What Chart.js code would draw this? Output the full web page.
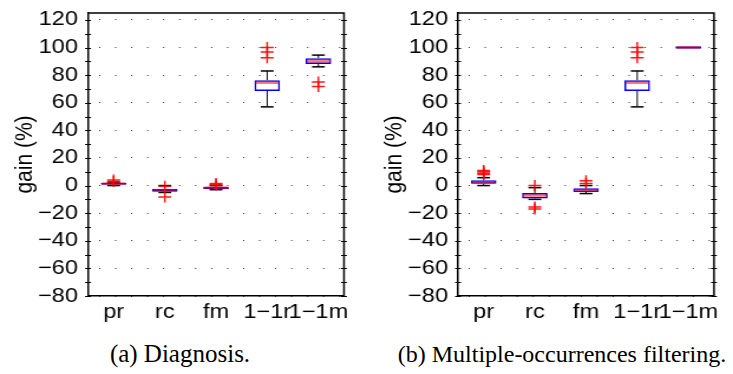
<!DOCTYPE html>
<html>
<head>
<meta charset="utf-8">
<script src="https://cdn.jsdelivr.net/npm/chart.js@4.4.0/dist/chart.umd.min.js"></script>
<style>
  body { margin: 0; background: #fff; }
  #wrap { position: relative; width: 733px; height: 374px; overflow: hidden; }
  /* the original figure is a little wider than tall, so the panels are stretched sideways */
  .panel { position: absolute; top: 0; height: 330px; transform: scaleX(1.18); transform-origin: 0 0; }
  .caption {
    position: absolute; top: 341px; font-family: 'Liberation Serif', 'Times New Roman', serif;
    font-size: 24px; color: #000; white-space: nowrap; transform: translateX(-50%);
  }
</style>
</head>
<body>
<div id="wrap">
  <div class="panel" style="left:0;width:310px"><canvas id="diagChart"></canvas></div>
  <div class="panel" style="left:366px;width:311px"><canvas id="filtChart"></canvas></div>
  <div class="caption" style="left:180px;font-size:25px;top:340px">(a) Diagnosis.</div>
  <div class="caption" style="left:562px">(b) Multiple-occurrences filtering.</div>
</div>
<script>
// Categories and y ticks
const categories = ['pr', 'rc', 'fm', '1\u22121r', '1\u22121m'];
const yTickValues = [-80, -70, -60, -50, -40, -30, -20, -10, 0, 10, 20, 30, 40, 50, 60, 70, 80, 90, 100, 110, 120];

// (a) Diagnosis - box plot stats per category
const diagWhiskerLow = [0, -5, -3, 57, 86];
const diagQ1 = [0.5, -4.5, -2.6, 68.5, 88];
const diagMedian = [1.4, -3.4, -1.6, 74.5, 90];
const diagQ3 = [2, -2.3, -0.8, 76.3, 92.3];
const diagWhiskerHigh = [2.5, 0, 0, 83, 94.5];
const diagOutliers = [[3, 4], [-0.5, -8.2], [0.5, 1.5], [92.5, 96.8, 100], [71.7, 75]];

// (b) Multiple-occurrences filtering
const filtWhiskerLow = [0, -10, -5.8, 57, 100];
const filtQ1 = [1.4, -9.4, -4.6, 68.5, 100];
const filtMedian = [2.1, -7.2, -3.4, 74.5, 100];
const filtQ3 = [3.8, -5.3, -1.9, 76.3, 100];
const filtWhiskerHigh = [5.7, -1.5, 0, 83, 100];
const filtOutliers = [[8, 9, 10, 11], [0, -15.5, -17], [1.5, 3.5], [92.5, 96.8, 100], []];

const sansFont = "'Liberation Sans', Arial, sans-serif";

// Whiskers, medians, frame and inward ticks
const boxPlotExtras = {
  id: 'boxPlotExtras',
  beforeDatasetsDraw(chart, args, opts) {
    const { ctx, scales: { y } } = chart;
    const meta = chart.getDatasetMeta(0);
    ctx.save();
    ctx.strokeStyle = '#000';
    meta.data.forEach((bar, i) => {
      const cx = bar.x;
      const half = bar.width / 4;
      const parts = [[opts.q3[i], opts.high[i]], [opts.q1[i], opts.low[i]]];
      parts.forEach(([from, to]) => {
        if (from === to) return;
        const y1 = y.getPixelForValue(from);
        const y2 = y.getPixelForValue(to);
        ctx.lineWidth = 1;
        ctx.beginPath();
        ctx.moveTo(cx, y1);
        ctx.lineTo(cx, y2);
        ctx.stroke();
        ctx.lineWidth = 1.5;
        ctx.beginPath();
        ctx.moveTo(cx - half, y2);
        ctx.lineTo(cx + half, y2);
        ctx.stroke();
      });
    });
    ctx.restore();
  },
  afterDatasetDraw(chart, args, opts) {
    if (args.index !== 0) return;
    const { ctx, scales: { y } } = chart;
    ctx.save();
    args.meta.data.forEach((bar, i) => {
      const left = bar.x - bar.width / 2;
      const right = bar.x + bar.width / 2;
      // flat box: still show its outline as a line
      if (opts.q1[i] === opts.q3[i]) {
        const yb = y.getPixelForValue(opts.q1[i]);
        ctx.strokeStyle = '#0000ff';
        ctx.lineWidth = 2;
        ctx.beginPath();
        ctx.moveTo(left, yb);
        ctx.lineTo(right, yb);
        ctx.stroke();
      }
      const ym = y.getPixelForValue(opts.median[i]);
      ctx.strokeStyle = 'rgba(255, 0, 0, 0.55)';
      ctx.lineWidth = 2.5;
      ctx.beginPath();
      ctx.moveTo(left + 1, ym);
      ctx.lineTo(right - 1, ym);
      ctx.stroke();
    });
    ctx.restore();
  },
  afterDraw(chart) {
    const { ctx, chartArea: a, scales: { y } } = chart;
    ctx.save();
    ctx.strokeStyle = '#000';
    ctx.lineWidth = 1.5;
    ctx.beginPath();
    ctx.moveTo(a.left, a.top);
    ctx.lineTo(a.right, a.top);
    ctx.lineTo(a.right, a.bottom);
    ctx.stroke();
    ctx.lineWidth = 1;
    yTickValues.forEach(v => {
      const py = Math.round(y.getPixelForValue(v)) + 0.5;
      ctx.beginPath();
      ctx.moveTo(a.left - 2.5, py);
      ctx.lineTo(a.left + 2.5, py);
      ctx.moveTo(a.right - 2.5, py);
      ctx.lineTo(a.right + 2.5, py);
      ctx.stroke();
    });
    ctx.restore();
  }
};

function makePanel(canvasId, low, q1, median, q3, high, outliers, yWidth, titlePad, rightPad) {
  const outlierPoints = [];
  outliers.forEach((list, i) => {
    list.forEach(v => outlierPoints.push({ x: categories[i], y: v }));
  });

  return new Chart(document.getElementById(canvasId), {
    type: 'bar',
    data: {
      labels: categories,
      datasets: [
        {
          label: 'box',
          data: q1.map((v, i) => [v, q3[i]]),
          backgroundColor: 'rgba(0, 0, 0, 0)',
          borderColor: '#0000ff',
          borderWidth: 1.5,
          borderSkipped: false,
          barPercentage: 0.5,
          categoryPercentage: 1.0,
          order: 2
        },
        {
          type: 'line',
          label: 'outliers',
          data: outlierPoints,
          showLine: false,
          pointStyle: 'cross',
          pointRadius: 5.5,
          pointBorderWidth: 1.5,
          pointBorderColor: 'rgba(255, 0, 0, 0.9)',
          pointBackgroundColor: 'rgba(255, 0, 0, 0.9)',
          order: 1
        }
      ]
    },
    options: {
      responsive: true,
      maintainAspectRatio: false,
      animation: false,
      layout: { padding: { top: 13, right: rightPad, left: 0, bottom: 0 } },
      plugins: {
        legend: { display: false },
        tooltip: { enabled: false },
        boxPlotExtras: { low: low, q1: q1, median: median, q3: q3, high: high }
      },
      scales: {
        x: {
          offset: true,
          grid: { display: false, drawTicks: false },
          border: { display: true, color: '#000', width: 1.5 },
          ticks: { color: '#000', font: { family: sansFont, size: 20 }, padding: 4, maxRotation: 0, autoSkip: false },
          afterFit: scale => {
            scale.height = 34;
            scale.paddingLeft = 0;
            scale.paddingRight = 0;
          }
        },
        y: {
          min: -80,
          max: 125,
          afterBuildTicks: scale => { scale.ticks = yTickValues.map(v => ({ value: v })); },
          grid: { color: '#333', lineWidth: 1, drawTicks: false },
          border: { display: true, color: '#000', width: 1.5, dash: [1, 12.56], dashOffset: 5.1 },
          ticks: {
            color: '#000',
            padding: 8.5,
            font: { family: sansFont, size: 20 },
            callback: v => (v % 20 === 0 ? (v < 0 ? '\u2212' + Math.abs(v) : String(v)) : '')
          },
          title: {
            display: true,
            text: 'gain (%)',
            color: '#000',
            font: { family: sansFont, size: 21 },
            padding: { top: titlePad, bottom: 0 }
          },
          afterFit: scale => {
            scale.width = yWidth;
            scale.paddingTop = 0;
            scale.paddingBottom = 0;
          }
        }
      }
    },
    plugins: [boxPlotExtras]
  });
}

makePanel('diagChart', diagWhiskerLow, diagQ1, diagMedian, diagQ3, diagWhiskerHigh, diagOutliers, 74.6, 8.6, 18.5);
makePanel('filtChart', filtWhiskerLow, filtQ1, filtMedian, filtQ3, filtWhiskerHigh, filtOutliers, 78, 12, 16.1);
</script>
</body>
</html>
